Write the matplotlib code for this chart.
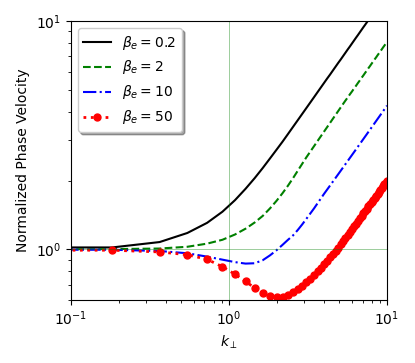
import numpy as np
import matplotlib
matplotlib.use('Agg')
import matplotlib.pyplot as plt

# k_perp samples (0 .. 10, step 10/55)
k_perp = [0.0, 0.182, 0.364, 0.545, 0.727, 0.909, 1.091, 1.273, 1.455, 1.636,
          1.818, 2.0, 2.182, 2.364, 2.545, 2.727, 2.909, 3.091, 3.273, 3.455,
          3.636, 3.818, 4.0, 4.182, 4.364, 4.545, 4.727, 4.909, 5.091, 5.273,
          5.455, 5.636, 5.818, 6.0, 6.182, 6.364, 6.545, 6.727, 6.909, 7.091,
          7.273, 7.455, 7.636, 7.818, 8.0, 8.182, 8.364, 8.545, 8.727, 8.909,
          9.091, 9.273, 9.455, 9.636, 9.818, 10.0]

# normalized phase velocity for each beta_e
v_beta_02 = [1.013, 1.018, 1.075, 1.178, 1.305, 1.46, 1.64, 1.84, 2.05, 2.27,
             2.50, 2.73, 2.96, 3.20, 3.44, 3.68, 3.92, 4.16, 4.40, 4.64,
             4.88, 5.12, 5.36, 5.60, 5.83, 6.07, 6.31, 6.55, 6.78, 7.02,
             7.26, 7.50, 7.73, 7.97, 8.21, 8.45, 8.68, 8.92, 9.16, 9.40,
             9.63, 9.87, 10.11, 10.35, 10.58, 10.82, 11.06, 11.30, 11.53, 11.77,
             12.01, 12.25, 12.48, 12.72, 12.96, 13.19]
v_beta_2 = [1.0, 1.001, 1.007, 1.025, 1.058, 1.10, 1.16, 1.23, 1.31, 1.40,
            1.51, 1.63, 1.76, 1.90, 2.05, 2.21, 2.37, 2.53, 2.68, 2.83,
            2.98, 3.13, 3.28, 3.43, 3.58, 3.73, 3.88, 4.03, 4.18, 4.33,
            4.48, 4.62, 4.77, 4.91, 5.06, 5.20, 5.35, 5.49, 5.64, 5.78,
            5.93, 6.07, 6.22, 6.36, 6.51, 6.65, 6.80, 6.94, 7.09, 7.23,
            7.38, 7.52, 7.67, 7.81, 7.96, 8.10]
v_beta_10 = [1.0, 0.995, 0.982, 0.96, 0.928, 0.900, 0.878, 0.865, 0.868, 0.895,
             0.94, 0.99, 1.045, 1.10, 1.15, 1.215, 1.285, 1.36, 1.435, 1.51,
             1.59, 1.67, 1.75, 1.826, 1.902, 1.978, 2.054, 2.13, 2.206, 2.282,
             2.358, 2.434, 2.51, 2.586, 2.662, 2.738, 2.814, 2.89, 2.966, 3.042,
             3.118, 3.194, 3.27, 3.346, 3.422, 3.498, 3.574, 3.65, 3.726, 3.802,
             3.878, 3.954, 4.03, 4.106, 4.182, 4.258]
v_beta_50 = [1.0, 0.99, 0.973, 0.946, 0.903, 0.838, 0.777, 0.722, 0.677, 0.641,
             0.621, 0.615, 0.620, 0.633, 0.650, 0.670, 0.692, 0.717, 0.743, 0.771,
             0.800, 0.829, 0.859, 0.889, 0.920, 0.952, 0.984, 1.017, 1.051, 1.085,
             1.120, 1.155, 1.190, 1.225, 1.260, 1.295, 1.330, 1.365, 1.400, 1.435,
             1.470, 1.505, 1.540, 1.575, 1.610, 1.645, 1.680, 1.715, 1.750, 1.785,
             1.820, 1.855, 1.890, 1.925, 1.960, 1.995]

fig = plt.figure(figsize=(4.15, 3.63), dpi=100)
ax = fig.add_axes([0.171, 0.174, 0.7615, 0.768])

ax.plot(k_perp, v_beta_02, 'k-', lw=1.5, label=r'$\beta_e = 0.2$')
ax.plot(k_perp, v_beta_2, 'g--', lw=1.5, label=r'$\beta_e = 2$')
ax.plot(k_perp, v_beta_10, 'b-.', lw=1.5, label=r'$\beta_e = 10$')
ax.plot(k_perp, v_beta_50, 'r:', lw=2, marker='o', markersize=5,
        label=r'$\beta_e = 50$')

# reference lines at k = 1 and v = 1
ax.axvline(1.0, color='green', lw=0.6, alpha=0.45)
ax.axhline(1.0, color='green', lw=0.6, alpha=0.45)

ax.set_xscale('log')
ax.set_yscale('log')
ax.set_xlim(0.1, 10)
ax.set_ylim(0.6, 10)
ax.set_xlabel(r'$k_\perp$')
ax.set_ylabel('Normalized Phase Velocity')
ax.legend(loc='upper left', shadow=True)

fig.savefig('out.png', dpi=100)
